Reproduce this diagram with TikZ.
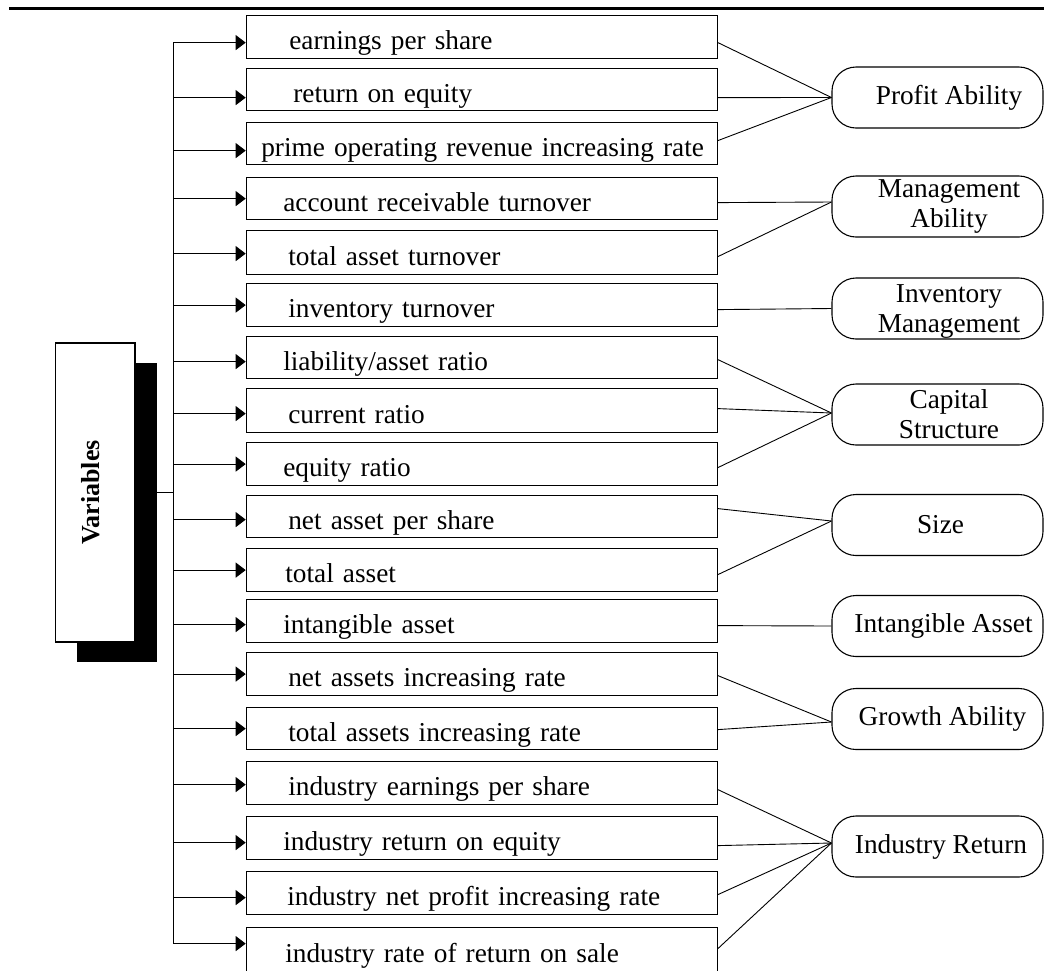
\documentclass[tikz,border=0pt]{standalone}
\usepackage{fontspec}
\setmainfont{Liberation Serif}
\usetikzlibrary{arrows.meta,calc}
\newcommand\mkvar[5]{\node[vbox, minimum height=#3pt] (#1) at (245.7,#2) {\noindent\hspace*{#4pt}#5};}
\begin{document}
\begin{tikzpicture}[x=1pt,y=-1pt,
  every node/.style={font=\fontsize{27.3}{30}\selectfont},
  vbox/.style={draw=black, line width=1.2pt, minimum width=471pt, inner sep=0pt,
    anchor=north west, text width=471pt, align=left, text height=27pt, text depth=2pt},
  fac/.style={draw=black, line width=1.1pt, rounded corners=24pt, minimum width=211pt,
    minimum height=61pt, inner sep=0pt, align=center},
  varbox/.style={draw=black, line width=1.2pt, fill=white, minimum width=79.3pt,
    minimum height=299pt, inner sep=0pt, font=\fontsize{26}{30}\selectfont\bfseries},
  arr/.style={line width=1pt, -{Triangle[length=10pt,width=15pt]}},
  link/.style={line width=0.9pt}]
\useasboundingbox (0,0) rectangle (1044,970);
\clip (0,0) rectangle (1044,970);

% top rule
\draw[line width=2.3pt] (9,8.5) -- (1044,8.5);

% Variables box with shadow
\fill[black] (76.7,363) rectangle (157,662);
\node[varbox] (var) at (95.35,492.5) {\rotatebox{90}{Variables}\hspace*{9pt}};

% variable boxes
\mkvar{b1}{15}{43}{43}{earnings per share}
\mkvar{b2}{68}{42}{47}{return on equity}
\mkvar{b3}{122}{42}{15}{prime operating revenue increasing rate}
\mkvar{b4}{177}{42}{37}{account receivable turnover}
\mkvar{b5}{230}{44}{42}{total asset turnover}
\mkvar{b6}{283}{43}{42}{inventory turnover}
\mkvar{b7}{336}{42}{37}{liability/asset ratio}
\mkvar{b8}{388}{44}{42}{current ratio}
\mkvar{b9}{442}{43}{37}{equity ratio}
\mkvar{b10}{495}{42}{42}{net asset per share}
\mkvar{b11}{548}{43}{39}{total asset}
\mkvar{b12}{599}{43}{37}{intangible asset}
\mkvar{b13}{652}{43}{42}{net assets increasing rate}
\mkvar{b14}{707}{42}{42}{total assets increasing rate}
\mkvar{b15}{761}{43}{42}{industry earnings per share}
\mkvar{b16}{816}{43}{37}{industry return on equity}
\mkvar{b17}{871}{43}{41}{industry net profit increasing rate}
\mkvar{b18}{927}{45}{39}{industry rate of return on sale}

% factor nodes
\node[fac] (pa) at (937.5,97.5) {\hspace*{23pt}Profit Ability};
\node[fac] (ma) at (937.5,206.5) {\hspace*{23pt}Management\\\hspace*{23pt}Ability};
\node[fac] (im) at (937.5,308.5) {\rule{0pt}{24pt}\hspace*{23pt}Inventory\\\hspace*{23pt}Management};
\node[fac] (cs) at (937.5,414.5) {\hspace*{23pt}Capital\\\hspace*{23pt}Structure};
\node[fac] (sz) at (937.5,525) {\hspace*{6pt}Size};
\node[fac] (ia) at (937.5,626) {\hspace*{12pt}Intangible Asset};
\node[fac] (ga) at (937.5,719) {\hspace*{10pt}Growth Ability};
\node[fac] (ir) at (937.5,846.5) {\hspace*{7pt}Industry Return};

% trunk
\coordinate (tr) at (173,0);
\coordinate (ttop) at (173,42);
\coordinate (tbot) at (173,943);
\draw[link] (ttop) -- (tbot);
\draw[link] (var.east) -- (var.east -| tr);

% arrows
\foreach \n/\s in {1/-5.5,2/-8,3/-7,4/0,5/-1,6/0,7/-4,8/-3,9/0,10/-3,11/0,12/-3.5,13/0,14/0,15/-1.5,16/-4.5,17/-4.5,18/6.5}{
  \coordinate (a\n) at ([yshift=\s pt]b\n.west);
  \draw[arr] (a\n -| tr) -- (a\n);
}

% links to factors
\foreach \b/\s/\f/\t in {1/-5.5/pa/0,2/-8/pa/0,3/3/pa/0,4/-4/ma/4.5,5/-4/ma/4.5,6/-4.5/im/0,
  7/-2/cs/1.5,8/2/cs/1.5,9/-3.5/cs/1.5,10/8/sz/4,11/-4.5/sz/4,12/-4.5/ia/0,
  13/-1.5/ga/-3,14/-1/ga/-3,15/-6.5/ir/3.5,16/-7.5/ir/3.5,17/-1.5/ir/3.5,18/1.5/ir/3.5}{
  \draw[link] ([yshift=\s pt]b\b.east) -- ([yshift=\t pt]\f.west);
}
\end{tikzpicture}
\end{document}
